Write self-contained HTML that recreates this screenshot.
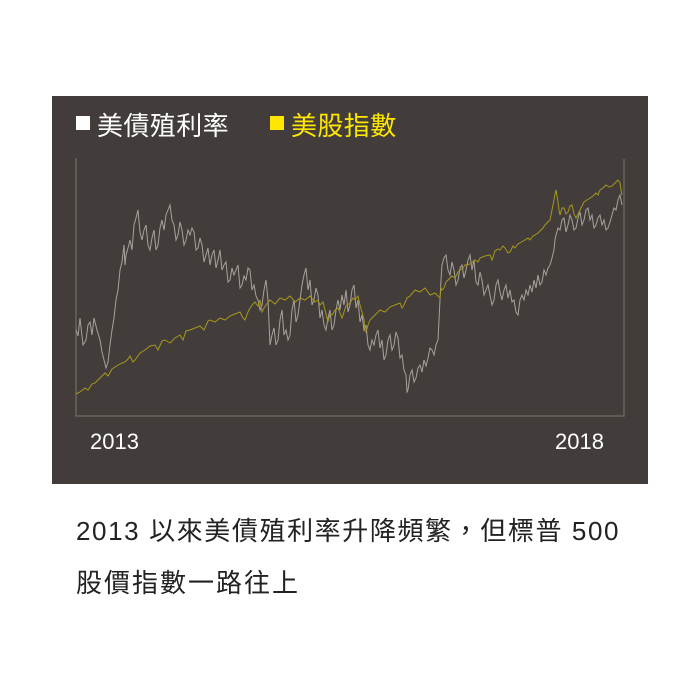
<!DOCTYPE html>
<html><head><meta charset="utf-8"><style>
body{margin:0;background:#fff;width:700px;height:700px;position:relative;font-family:"Liberation Sans","Noto Sans CJK TC",sans-serif;}
.box{position:absolute;left:52px;top:96px;width:596px;height:388px;background:#423d3b;}
.t{position:absolute;white-space:nowrap;}
</style></head><body>
<div class="box"></div>
<svg style="position:absolute;left:0;top:0" width="700" height="700">
<polyline fill="none" stroke="#6a6461" stroke-width="1.5" points="76,158 76,416 624,416 624,159"/>
<polyline fill="none" stroke="#a8a29c" stroke-width="1" points="76,330 78,336 80,318 83,345 86,340 88,325 90,322 92,335 94,318 97,330 100,340 102,352 104,360 106,368 108,362 110,345 112,330 114,318 116,300 118,290 120,270 122,262 124,245 125,265 126,255 128,248 130,240 132,250 134,225 136,218 138,210 140,232 142,240 144,230 146,225 148,245 150,250 152,238 154,230 156,250 158,245 160,228 162,220 164,230 166,215 168,210 170,205 172,220 174,225 176,240 178,235 180,222 182,230 184,245 186,240 188,230 190,235 192,228 194,232 196,250 198,248 200,238 202,245 204,262 206,255 208,248 210,265 212,255 214,250 216,268 218,260 220,250 222,270 224,265 226,262 228,282 230,280 232,268 234,275 236,270 238,265 240,288 242,285 244,276 246,280 248,268 250,270 252,290 254,285 256,296 258,300 260,310 262,305 264,290 266,280 268,300 270,345 272,335 274,328 276,345 278,340 280,320 282,310 284,335 286,330 288,340 290,335 292,310 294,300 296,322 298,315 300,300 302,285 304,275 306,268 308,290 310,280 312,305 314,300 316,288 318,295 320,318 322,310 324,325 326,330 328,318 330,310 332,330 334,325 336,310 338,300 340,310 342,295 344,305 346,290 348,312 350,305 352,290 354,285 356,308 358,300 360,322 362,315 364,330 366,325 368,345 370,350 372,340 374,345 376,335 378,330 380,348 382,340 384,360 386,355 388,340 390,335 392,350 394,345 396,332 398,338 400,358 402,355 404,370 406,375 407,392 408,390 410,375 412,370 414,382 416,378 418,368 420,365 422,372 424,360 426,366 428,358 430,348 432,350 434,355 436,345 438,340 439,320 440,300 441,280 442,265 444,258 446,255 448,270 450,275 452,262 454,270 456,285 458,280 460,268 462,265 464,278 466,270 468,260 470,255 472,270 474,260 476,282 478,285 480,272 482,280 484,295 486,290 488,285 490,295 492,305 494,300 496,285 498,280 500,292 502,300 504,290 506,285 508,298 510,290 512,302 514,300 516,312 518,315 520,300 522,295 524,300 526,290 528,295 530,285 532,292 534,280 536,288 538,275 540,285 542,282 544,270 546,275 548,268 550,265 552,258 554,250 555,240 556,235 558,228 560,230 562,220 564,218 566,232 568,225 570,215 572,220 574,230 576,228 578,218 580,212 582,225 584,220 586,210 588,208 590,220 592,215 594,228 596,225 598,218 600,215 602,225 604,220 606,230 608,228 610,222 612,215 614,208 616,210 618,200 620,195 622,205"/>
<polyline fill="none" stroke="#a6971a" stroke-width="1" points="76,394 80,392 85,388 88,390 92,384 95,383 100,378 105,373 108,376 112,369 115,367 120,364 125,362 128,359 130,356 133,362 135,360 140,353 145,350 150,346 155,345 158,350 162,341 165,340 170,343 175,338 180,335 183,340 186,331 190,330 195,328 200,326 204,330 208,321 210,320 215,322 220,318 225,320 230,316 235,314 240,312 243,318 245,320 248,312 250,308 253,304 255,302 258,306 260,300 262,312 264,308 266,305 270,300 275,304 280,298 285,300 290,296 295,302 300,298 305,300 310,296 315,302 318,300 320,305 323,302 325,310 327,318 328,322 330,314 332,315 335,310 338,308 340,313 342,318 346,306 350,303 353,298 355,300 358,296 360,305 362,312 364,320 365,330 366,332 368,325 370,320 375,315 380,310 385,312 390,307 395,305 400,303 402,308 404,305 407,298 410,296 415,290 420,292 425,288 430,295 435,293 440,298 441,288 442,290 444,288 446,282 448,280 452,276 455,278 458,272 460,270 463,268 465,265 470,264 475,260 478,262 480,258 485,256 490,255 492,260 495,251 498,249 500,250 503,246 505,248 508,253 510,252 513,246 515,248 518,244 520,243 523,241 525,240 528,238 530,240 533,236 535,235 538,233 540,231 543,228 545,225 548,222 550,220 552,210 554,200 555,194 556,190 557,196 558,202 559,210 560,215 562,208 564,208 566,214 568,212 570,206 572,205 574,214 576,218 578,214 580,210 582,206 584,202 587,200 590,198 593,196 596,193 598,195 600,190 603,188 606,185 609,187 612,186 614,184 616,182 618,180 620,183 621,190 622,195"/>
<rect x="76" y="116" width="14" height="14" fill="#fff"/>
<rect x="270" y="116" width="14" height="14" fill="#ffe600"/>
</svg>
<div class="t" style="left:97px;top:106px;font-size:26px;color:#fff;letter-spacing:0.4px;">美債殖利率</div>
<div class="t" style="left:291px;top:106px;font-size:26px;color:#ffe600;letter-spacing:0.4px;">美股指數</div>
<div class="t" style="left:90px;top:429px;font-size:22px;color:#fff;">2013</div>
<div class="t" style="left:555px;top:429px;font-size:22px;color:#fff;">2018</div>
<div class="t" style="left:76px;top:511px;font-size:26px;color:#222;letter-spacing:1.6px;">2013 以來美債殖利率升降頻繁，但標普 500</div>
<div class="t" style="left:76px;top:563px;font-size:26px;color:#222;letter-spacing:2px;">股價指數一路往上</div>
</body></html>
